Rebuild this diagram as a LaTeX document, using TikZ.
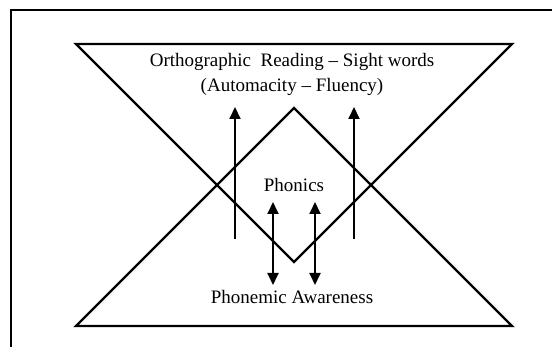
\documentclass[tikz,border=0pt]{standalone}
\usepackage{fontspec}
\setmainfont{Liberation Serif}
\usetikzlibrary{arrows.meta}
\begin{document}
\begin{tikzpicture}[x=1pt,y=-1pt,
  tri/.style={draw=black,line width=2.3pt,line join=miter},
  arr/.style={draw=black,line width=1.9pt,-{Triangle[length=12pt,width=11pt]}},
  darr/.style={draw=black,line width=1.9pt,{Triangle[length=12pt,width=11pt]}-{Triangle[length=12pt,width=11pt]}},
  lbl/.style={font=\fontsize{19}{25}\selectfont,inner sep=0pt,align=center}]
\useasboundingbox (0,0) rectangle (552,347);
% frame (only left and top edges visible)
\draw[line width=1.6pt] (11,352) -- (11,10) -- (560,10);
% upper (inverted) triangle
\coordinate (ul) at (76,44);
\coordinate (ur) at (512,44);
\coordinate (vb) at (294,262);
\draw[tri] (ul) -- (ur) -- (vb) -- cycle;
% lower triangle
\coordinate (bl) at (76,326);
\coordinate (br) at (512,326);
\coordinate (ap) at (294,108);
\draw[tri] (bl) -- (br) -- (ap) -- cycle;
% labels
\node[lbl] (orth) at (292,74) {Orthographic\ \ Reading -- Sight words\\(Automacity -- Fluency)};
\node[lbl] (phon) at (294,185) {Phonics};
\node[lbl] (pa) at (292,297) {Phonemic Awareness};
% arrows
\coordinate (la0) at (235,239);
\coordinate (la1) at (235,107);
\coordinate (ra0) at (354,239);
\coordinate (ra1) at (354,107);
\draw[arr] (la0) -- (la1);
\draw[arr] (ra0) -- (ra1);
\coordinate (da0) at (273,202);
\coordinate (da1) at (273,285);
\coordinate (db0) at (315,202);
\coordinate (db1) at (315,285);
\draw[darr] (da0) -- (da1);
\draw[darr] (db0) -- (db1);
\end{tikzpicture}
\end{document}
